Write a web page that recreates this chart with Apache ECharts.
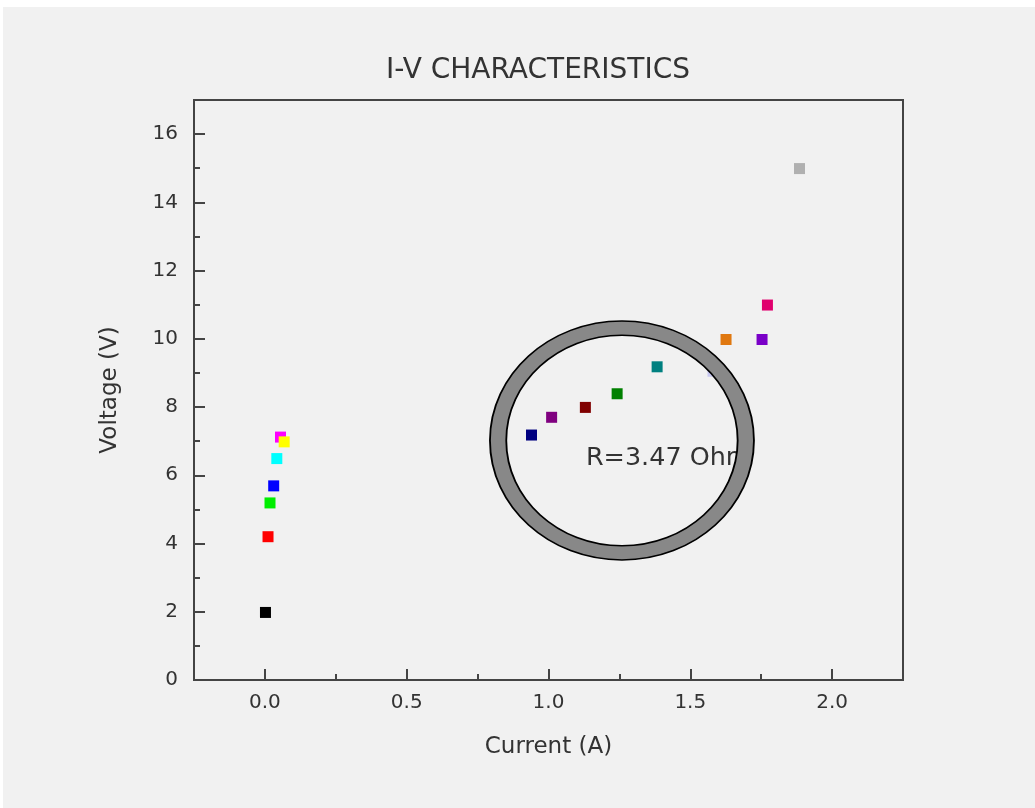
<!DOCTYPE html>
<html>
<head>
<meta charset="utf-8">
<title>I-V CHARACTERISTICS</title>
<script src="https://cdn.jsdelivr.net/npm/echarts@6/dist/echarts.min.js"></script>
<style>
  html, body { margin: 0; padding: 0; background: #ffffff; }
  #chart { position: absolute; left: 3px; top: 7px; width: 1032px; height: 801px; }
</style>
</head>
<body>
<div id="chart"></div>
<script>
// Measured current (A) and voltage (V) pairs
const currents = [0.002, 0.011, 0.018, 0.031, 0.042, 0.055, 0.068, 0.94, 1.011, 1.13, 1.242, 1.383, 1.58, 1.626, 1.753, 1.772, 1.885];
const voltages = [1.98, 4.2, 5.19, 5.69, 6.49, 7.12, 6.98, 7.18, 7.7, 7.99, 8.39, 9.18, 9.05, 9.98, 9.98, 10.99, 14.99];
const markerColors = ['#000000', '#ff0000', '#00ee00', '#0000ff', '#00ffff', '#ff00ff', '#ffff00',
  '#000080', '#800080', '#800000', '#008000', '#008080', '#c8c8f0', '#e07810', '#7a00c8', '#e0006e', '#b0b0b0'];

// Axis tick positions
const xMajorTicks = [0, 0.5, 1.0, 1.5, 2.0];
const xMinorTicks = [0.25, 0.75, 1.25, 1.75];
const yMajorTicks = [0, 2, 4, 6, 8, 10, 12, 14, 16];
const yMinorTicks = [1, 3, 5, 7, 9, 11, 13, 15];

// Resistance note and the region it circles
const noteText = 'R=3.47 Ohm';
const noteAt = [1.132, 6.48];
const ringCenter = [1.259, 7.02];

const FONT = 'DejaVu Sans';
const TEXT = '#333333';
const FRAME = '#444444';
const X_RANGE = [-0.25, 2.25];
const Y_RANGE = [0, 17];

const chart = echarts.init(document.getElementById('chart'));

const xBase = { type: 'value', min: X_RANGE[0], max: X_RANGE[1], position: 'bottom', splitLine: { show: false } };
const yBase = { type: 'value', min: Y_RANGE[0], max: Y_RANGE[1], position: 'left', splitLine: { show: false } };

chart.setOption({
  backgroundColor: '#f1f1f1',
  animation: false,
  title: {
    text: 'I-V CHARACTERISTICS',
    left: 535,
    top: 50,
    textAlign: 'center',
    padding: 0,
    textStyle: { fontFamily: FONT, fontSize: 28, fontWeight: 'normal', color: TEXT }
  },
  grid: {
    left: 191, top: 93, width: 709, height: 580,
    show: true, borderColor: FRAME, borderWidth: 2, backgroundColor: 'transparent'
  },
  xAxis: [
    Object.assign({}, xBase, {
      name: 'Current (A)',
      nameLocation: 'middle',
      nameGap: 56,
      nameTextStyle: { fontFamily: FONT, fontSize: 23, color: TEXT },
      axisLine: { show: true, onZero: false, lineStyle: { color: FRAME, width: 2 } },
      axisTick: { show: true, inside: true, length: 11, customValues: xMajorTicks, lineStyle: { color: FRAME, width: 2 } },
      axisLabel: {
        customValues: xMajorTicks, margin: 13,
        fontFamily: FONT, fontSize: 20, color: TEXT,
        formatter: v => v.toFixed(1)
      }
    }),
    Object.assign({}, xBase, {
      axisLine: { show: false, onZero: false },
      axisTick: { show: true, inside: true, length: 6, customValues: xMinorTicks, lineStyle: { color: FRAME, width: 2 } },
      axisLabel: { show: false }
    })
  ],
  yAxis: [
    Object.assign({}, yBase, {
      name: 'Voltage (V)',
      nameLocation: 'middle',
      nameGap: 72,
      nameTextStyle: { fontFamily: FONT, fontSize: 23, color: TEXT },
      axisLine: { show: true, onZero: false, lineStyle: { color: FRAME, width: 2 } },
      axisTick: { show: true, inside: true, length: 11, customValues: yMajorTicks, lineStyle: { color: FRAME, width: 2 } },
      axisLabel: {
        customValues: yMajorTicks, margin: 16,
        fontFamily: FONT, fontSize: 20, color: TEXT
      }
    }),
    Object.assign({}, yBase, {
      axisLine: { show: false, onZero: false },
      axisTick: { show: true, inside: true, length: 6, customValues: yMinorTicks, lineStyle: { color: FRAME, width: 2 } },
      axisLabel: { show: false }
    })
  ],
  series: [{
    type: 'scatter',
    xAxisIndex: 0,
    yAxisIndex: 0,
    symbol: 'rect',
    symbolSize: 11,
    itemStyle: { opacity: 1 },
    data: currents.map((c, i) => ({ value: [c, voltages[i]], itemStyle: { color: markerColors[i], opacity: 1 } }))
  }]
});

// Annotation: resistance note with an oval drawn round the mid-range points
const center = chart.convertToPixel({ xAxisIndex: 0, yAxisIndex: 0 }, ringCenter);
const notePos = chart.convertToPixel({ xAxisIndex: 0, yAxisIndex: 0 }, noteAt);
const squash = 1.15;

chart.setOption({
  graphic: [
    {
      type: 'text',
      x: notePos[0], y: notePos[1], z: 90, scaleX: 1.06,
      style: { text: noteText, fill: TEXT, font: '24px "' + FONT + '"', textAlign: 'left', textVerticalAlign: 'middle' }
    },
    {
      type: 'group',
      x: center[0], y: center[1], scaleX: squash, z: 100,
      children: [
        { type: 'ellipse', z: 100, shape: { cx: 0, cy: 0, rx: 123.85 / squash, ry: 112.4 }, style: { fill: 'none', stroke: '#888888', lineWidth: 14.2 } },
        { type: 'ellipse', z: 101, shape: { cx: 0, cy: 0, rx: 132 / squash, ry: 119.5 }, style: { fill: 'none', stroke: '#000000', lineWidth: 1.6 } },
        { type: 'ellipse', z: 101, shape: { cx: 0, cy: 0, rx: 115.7 / squash, ry: 105.3 }, style: { fill: 'none', stroke: '#000000', lineWidth: 1.6 } }
      ]
    }
  ]
});
</script>
</body>
</html>
